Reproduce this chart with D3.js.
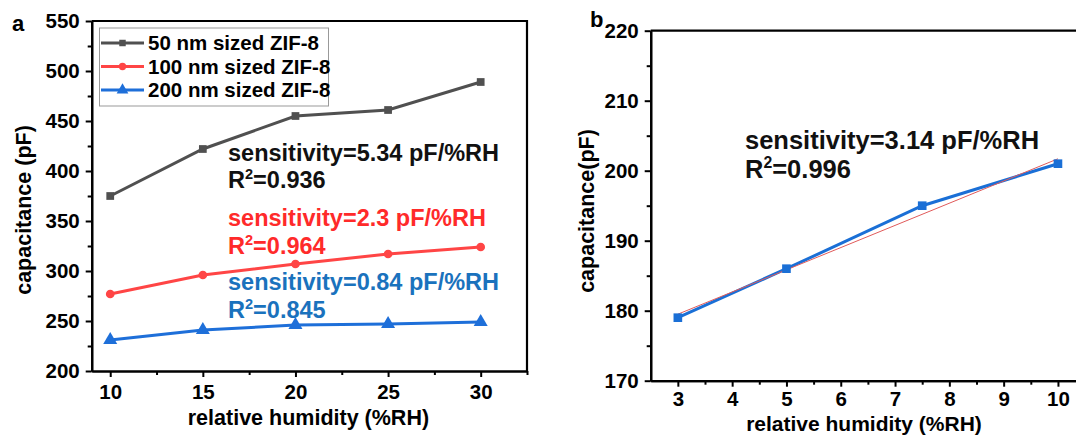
<!DOCTYPE html>
<html>
<head>
<meta charset="utf-8">
<script src="https://cdn.jsdelivr.net/npm/d3@7"></script>
<style>
  body { margin: 0; background: #fff; }
  svg { display: block; font-family: "Liberation Sans", Arial, sans-serif; font-weight: bold; }
</style>
</head>
<body>
<svg id="chart" width="1076" height="436"></svg>
<script>
// panel a data
const humidityA = [10, 15, 20, 25, 30];
const zif50 = [375, 422, 455, 461, 489];
const zif100 = [277, 296, 307, 317, 324];
const zif200 = [231, 241, 246, 247, 249];
const seriesNamesA = ['50 nm sized ZIF-8', '100 nm sized ZIF-8', '200 nm sized ZIF-8'];
const xTicksA = [10, 15, 20, 25, 30];
const yTicksA = [200, 250, 300, 350, 400, 450, 500, 550];

// panel b data
const humidityB = [3, 5, 7.5, 10];
const capB = [179, 186, 195, 201];
const fitXB = [3, 10];
const fitYB = [179.5, 201.7];
const xTicksB = [3, 4, 5, 6, 7, 8, 9, 10];
const yTicksB = [170, 180, 190, 200, 210, 220];

const svg = d3.select('#chart');

// ---------- panel a ----------
const xA = d3.scaleLinear().domain([9, 32.5]).range([91.7, 527]);
const yA = d3.scaleLinear().domain([200, 550]).range([371, 21]);

const colorsA = ['#505050', '#ff4545', '#1e6fd9'];
const dataA = [zif50, zif100, zif200];
const shapes = [d3.symbolSquare, d3.symbolCircle, d3.symbolTriangle];
const shapeSize = [60, 60, 85];

function styleAxis(g) {
    g.select('.domain').attr('stroke', '#000').attr('stroke-width', 2.2);
    g.selectAll('.tick line').attr('stroke', '#000').attr('stroke-width', 2);
    g.selectAll('.tick text').attr('fill', '#000')
     .style('font-size', '20.5px').style('font-weight', 'bold')
     .style('font-family', '"Liberation Sans", Arial, sans-serif');
}

// minor ticks
svg.append('g')
   .attr('transform', 'translate(0,371)')
   .call(d3.axisBottom(xA).tickValues([12.5, 17.5, 22.5, 27.5, 32.5]).tickSize(4).tickSizeOuter(0).tickFormat(''))
   .call(styleAxis);
svg.append('g')
   .attr('transform', 'translate(91.7,0)')
   .call(d3.axisLeft(yA).tickValues([225, 275, 325, 375, 425, 475, 525]).tickSize(4).tickSizeOuter(0).tickFormat(''))
   .call(styleAxis);

svg.append('g')
   .attr('transform', 'translate(0,371)')
   .call(d3.axisBottom(xA).tickValues(xTicksA).tickSize(6).tickPadding(7).tickSizeOuter(0))
   .call(styleAxis);
svg.append('g')
   .attr('transform', 'translate(91.7,0)')
   .call(d3.axisLeft(yA).tickValues(yTicksA).tickSize(6).tickPadding(6).tickSizeOuter(0))
   .call(styleAxis);

// frame top / right
svg.append('path')
   .attr('d', `M${xA(9)},${yA(550)}H${xA(32.5)}V${yA(200)}`)
   .attr('fill', 'none').attr('stroke', '#000').attr('stroke-width', 2.2);

const lineA = d3.line().x((d, i) => xA(humidityA[i])).y(d => yA(d));

dataA.forEach((vals, k) => {
    svg.append('path')
       .datum(vals)
       .attr('d', lineA)
       .attr('fill', 'none')
       .attr('stroke', colorsA[k])
       .attr('stroke-width', 3);
    svg.selectAll('.mk' + k)
       .data(vals)
       .enter()
       .append('path')
       .attr('d', d3.symbol().type(shapes[k]).size(shapeSize[k]))
       .attr('transform', (d, i) => `translate(${xA(humidityA[i])},${yA(d)})`)
       .attr('fill', colorsA[k]);
});

// legend
const legend = svg.append('g');
legend.append('rect')
      .attr('x', 99.5).attr('y', 28).attr('width', 229).attr('height', 78)
      .attr('fill', '#fff').attr('stroke', '#999').attr('stroke-width', 1);
seriesNamesA.forEach((name, k) => {
    const cy = 43 + k * 23.5;
    legend.append('line')
          .attr('x1', 101).attr('x2', 144).attr('y1', cy).attr('y2', cy)
          .attr('stroke', colorsA[k]).attr('stroke-width', 3);
    legend.append('path')
          .attr('d', d3.symbol().type(shapes[k]).size(shapeSize[k] * 0.7))
          .attr('transform', `translate(122.5,${cy})`)
          .attr('fill', colorsA[k]);
    legend.append('text')
          .attr('x', 148).attr('y', cy).attr('dy', '0.36em')
          .style('font-size', '20.5px')
          .attr('fill', '#000')
          .text(name);
});

function annot(x, y, color, size, gap, sens, r2) {
    const g = svg.append('g').attr('fill', color).style('font-size', size + 'px');
    g.append('text').attr('x', x).attr('y', y).text(sens);
    const t = g.append('text').attr('x', x).attr('y', y + gap);
    t.append('tspan').text('R');
    t.append('tspan').attr('dy', -size * 0.38).style('font-size', (size * 0.62) + 'px').text('2');
    t.append('tspan').attr('dy', size * 0.38).text('=' + r2);
}

annot(228, 161, '#111', 23.5, 27, 'sensitivity=5.34 pF/%RH', '0.936');
annot(228, 226, '#ff2a2a', 23.5, 28, 'sensitivity=2.3 pF/%RH', '0.964');
annot(228, 290, '#1a72bd', 23.5, 28, 'sensitivity=0.84 pF/%RH', '0.845');

svg.append('text')
   .attr('x', xA(20.7)).attr('y', 425)
   .attr('text-anchor', 'middle')
   .style('font-size', '21.5px')
   .text('relative humidity (%RH)');
svg.append('text')
   .attr('transform', 'translate(31,210) rotate(-90)')
   .attr('text-anchor', 'middle')
   .style('font-size', '21.5px')
   .text('capacitance (pF)');
svg.append('text').attr('x', 12).attr('y', 31).style('font-size', '22px').text('a');

// ---------- panel b ----------
const xB = d3.scaleLinear().domain([2.5, 10.5]).range([650.7, 1085.1]);
const yB = d3.scaleLinear().domain([170, 220]).range([380.7, 30.7]);

svg.append('g')
   .attr('transform', 'translate(0,380.7)')
   .call(d3.axisBottom(xB).tickValues([3.5, 4.5, 5.5, 6.5, 7.5, 8.5, 9.5]).tickSize(4).tickSizeOuter(0).tickFormat(''))
   .call(styleAxis);
svg.append('g')
   .attr('transform', 'translate(650.7,0)')
   .call(d3.axisLeft(yB).tickValues([175, 185, 195, 205, 215]).tickSize(4).tickSizeOuter(0).tickFormat(''))
   .call(styleAxis);
svg.append('g')
   .attr('transform', 'translate(0,380.7)')
   .call(d3.axisBottom(xB).tickValues(xTicksB).tickSize(6).tickPadding(5).tickSizeOuter(0))
   .call(styleAxis);
svg.append('g')
   .attr('transform', 'translate(650.7,0)')
   .call(d3.axisLeft(yB).tickValues(yTicksB).tickSize(6).tickPadding(6).tickSizeOuter(0))
   .call(styleAxis);

svg.append('path')
   .attr('d', `M${xB(2.5)},${yB(220)}H${xB(10.5)}`)
   .attr('stroke', '#000').attr('stroke-width', 2.2);

const lineB = d3.line().x((d, i) => xB(humidityB[i])).y(d => yB(d));
svg.append('path')
   .datum(capB)
   .attr('d', lineB)
   .attr('fill', 'none').attr('stroke', '#1a6fd6').attr('stroke-width', 3);
svg.append('path')
   .datum(fitYB)
   .attr('d', d3.line().x((d, i) => xB(fitXB[i])).y(d => yB(d)))
   .attr('fill', 'none').attr('stroke', '#e05a5a').attr('stroke-width', 1);
svg.selectAll('.mkb')
   .data(capB)
   .enter()
   .append('path')
   .attr('d', d3.symbol().type(d3.symbolSquare).size(75))
   .attr('transform', (d, i) => `translate(${xB(humidityB[i])},${yB(d)})`)
   .attr('fill', '#1a6fd6');

annot(745, 149, '#111', 25.5, 29, 'sensitivity=3.14 pF/%RH', '0.996');

svg.append('text')
   .attr('x', 864).attr('y', 431)
   .attr('text-anchor', 'middle')
   .style('font-size', '21px')
   .text('relative humidity (%RH)');
svg.append('text')
   .attr('transform', 'translate(594,211) rotate(-90)')
   .attr('text-anchor', 'middle')
   .style('font-size', '21.5px')
   .text('capacitance(pF)');
svg.append('text').attr('x', 590).attr('y', 27).style('font-size', '22px').text('b');
</script>
</body>
</html>
